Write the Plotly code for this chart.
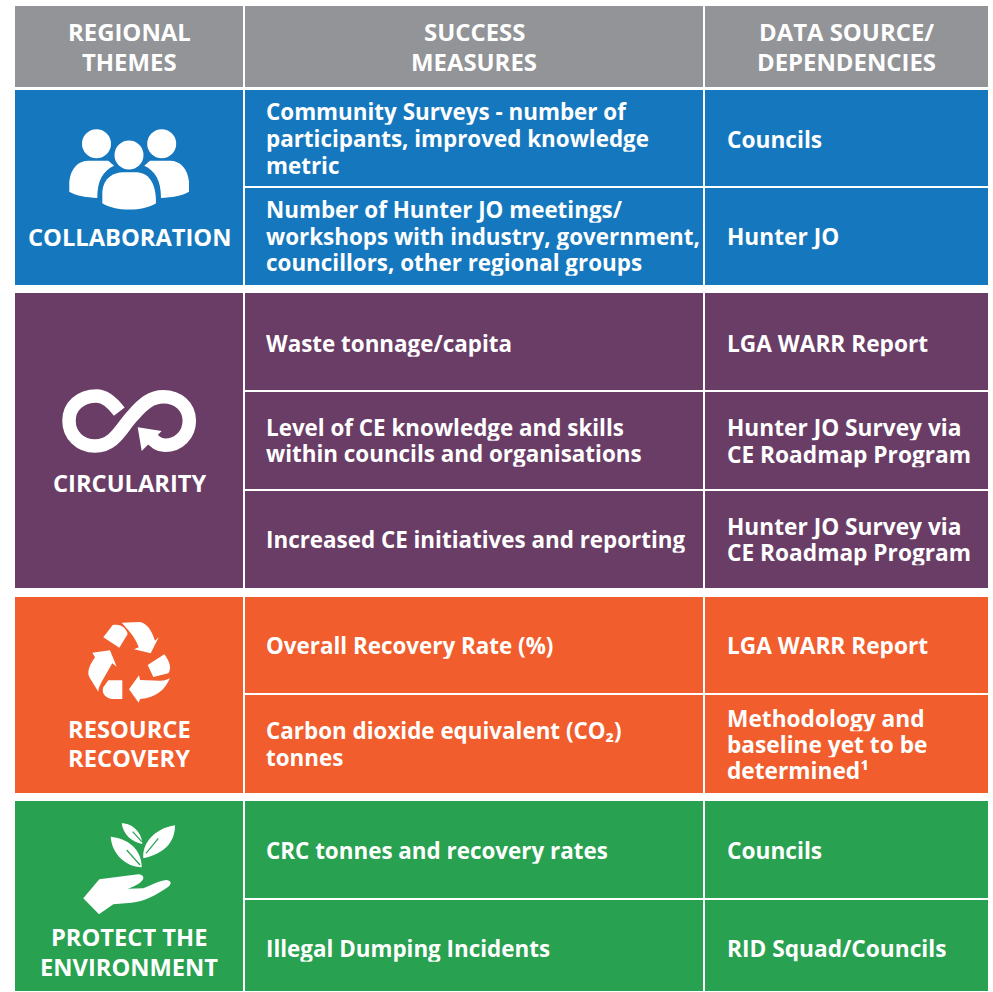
import plotly.graph_objects as go

FONT = "Open Sans"
headers = ["REGIONAL<br>THEMES", "SUCCESS<br>MEASURES", "DATA SOURCE/<br>DEPENDENCIES"]
themes = ["COLLABORATION", "CIRCULARITY", "RESOURCE<br>RECOVERY", "PROTECT THE<br>ENVIRONMENT"]
measures = [
    ["Community Surveys - number of<br>participants, improved knowledge<br>metric",
     "Number of Hunter JO meetings/<br>workshops with industry, government,<br>councillors, other regional groups"],
    ["Waste tonnage/capita",
     "Level of CE knowledge and skills<br>within councils and organisations",
     "Increased CE initiatives and reporting"],
    ["Overall Recovery Rate (%)",
     "Carbon dioxide equivalent (CO\u2082)<br>tonnes"],
    ["CRC tonnes and recovery rates", "Illegal Dumping Incidents"],
]
sources = [
    ["Councils", "Hunter JO"],
    ["LGA WARR Report", "Hunter JO Survey via<br>CE Roadmap Program", "Hunter JO Survey via<br>CE Roadmap Program"],
    ["LGA WARR Report", "Methodology and<br>baseline yet to be<br>determined\u00b9"],
    ["Councils", "RID Squad/Councils"],
]

COLS = [(15, 243), (245, 703), (705, 988)]
HEADER_Y = (6, 87)
BANDS = [[(90, 186), (188, 285)],
         [(293, 390), (392, 489), (491, 588)],
         [(597, 693), (695, 793)],
         [(801, 898), (900, 991)]]
ROW_TEXT_Y = [[139, 236.5], [343.5, 441, 539.5], [645.5, 744.5], [850.5, 948.5]]
COLORS = ["#1578BE", "#6A3D66", "#F15D2C", "#28A150"]
GREY = "#929497"
THEME_TEXT_Y = [237.5, 483, 744, 952.5]

shapes, ann = [], []

def rect(x, y, color):
    shapes.append(dict(type="rect", x0=x[0], x1=x[1], y0=y[0], y1=y[1],
                       fillcolor=color, line=dict(width=0), layer="below"))

def text(x, y, s, size, pitch, anchor="left"):
    lines = s.split("<br>")
    for i, line in enumerate(lines):
        ann.append(dict(x=x, y=y + (i - (len(lines) - 1) / 2) * pitch, text=line, showarrow=False,
                        xanchor=anchor, yanchor="middle", align=anchor, height=pitch - 1,
                        font=dict(family=FONT, size=size, color="white", weight=700)))

def zpath(cmds, ox, oy):
    """Icon outline given in 3x-crop units."""
    out = []
    for c in cmds:
        letter, nums = c[0], c[1:]
        pts = [f"{ox + nums[i] / 3:.1f},{oy + nums[i + 1] / 3:.1f}" for i in range(0, len(nums), 2)]
        out.append(letter + " ".join(pts))
    return " ".join(out)

def fill(cmds, ox, oy, color="white"):
    shapes.append(dict(type="path", path=zpath(cmds, ox, oy) + " Z", fillcolor=color, line=dict(width=0)))

def stroke(cmds, ox, oy, width, color="white"):
    shapes.append(dict(type="path", path=zpath(cmds, ox, oy), line=dict(color=color, width=width),
                       fillcolor="rgba(0,0,0,0)"))

def circle(cx, cy, r):
    shapes.append(dict(type="circle", x0=cx - r, x1=cx + r, y0=cy - r, y1=cy + r,
                       fillcolor="white", line=dict(width=0)))

# header row
HEADER_X = [129.5, 474, 846]
for (c, h, hx) in zip(COLS, headers, HEADER_X):
    rect(c, HEADER_Y, GREY)
    text(hx, 46, h, 23.9, 30, "center")

# body
for b, color in enumerate(COLORS):
    top, bottom = BANDS[b][0][0], BANDS[b][-1][1]
    rect(COLS[0], (top, bottom), color)
    text(129, THEME_TEXT_Y[b], themes[b], 23.7, 29.5, "center")
    for r, rowy in enumerate(BANDS[b]):
        rect(COLS[1], rowy, color)
        rect(COLS[2], rowy, color)
        text(264, ROW_TEXT_Y[b][r], measures[b][r], 22.4, 26.7)
        text(724.5, ROW_TEXT_Y[b][r], sources[b][r], 22.7, 26.2)

# people icon
circle(96.5, 143.7, 14.5); circle(161.7, 143.7, 14.5); circle(129, 155, 14.5)
left = [("M", 208, 575), ("L", 208, 545), ("C", 212, 505, 235, 482, 265, 482), ("L", 325, 482),
        ("L", 342, 497), ("C", 310, 512, 292, 540, 292, 594), ("C", 260, 592, 230, 588, 208, 575)]
fill(left, 0, 0)
right = [(c[0], *[775 - v if i % 2 == 0 else v for i, v in enumerate(c[1:])]) for c in left]
fill(right, 0, 0)
fill([("M", 307, 610), ("L", 307, 575), ("C", 310, 535, 340, 517, 370, 517), ("L", 405, 517),
      ("C", 445, 517, 468, 545, 468, 610), ("C", 430, 635, 345, 635, 307, 610)], 0, 0)

# infinity icon
stroke([("M", 358, 125), ("C", 335, 95, 315, 78, 290, 78), ("C", 240, 78, 207, 110, 207, 152),
        ("C", 207, 195, 240, 228, 285, 228), ("C", 345, 228, 365, 170, 400, 135),
        ("C", 430, 100, 455, 80, 490, 80), ("C", 535, 80, 568, 110, 568, 152),
        ("C", 568, 195, 535, 226, 495, 226), ("C", 475, 226, 460, 212, 450, 198)], 0, 370, 13.5)
fill([("M", 413, 172), ("L", 485, 183), ("L", 425, 243)], 0, 370)

# recycle icon
for p in [
    [("M", 130, 82), ("L", 158, 45), ("C", 185, 40, 198, 55, 203, 72), ("L", 178, 113)],
    [("M", 185, 38), ("L", 240, 36), ("C", 260, 40, 275, 60, 285, 92), ("L", 296, 82), ("L", 272, 130),
     ("L", 222, 118), ("L", 236, 112), ("C", 225, 80, 205, 60, 185, 38)],
    [("M", 263, 165), ("L", 313, 133), ("C", 330, 155, 335, 175, 325, 190), ("L", 280, 201)],
    [("M", 330, 203), ("C", 315, 240, 290, 262, 240, 267), ("L", 236, 278), ("L", 207, 238), ("L", 237, 196),
     ("L", 240, 210), ("L", 300, 212), ("C", 315, 212, 325, 208, 330, 203)],
    [("M", 187, 211), ("L", 187, 267), ("L", 155, 267), ("C", 130, 262, 125, 245, 130, 232), ("L", 145, 211)],
    [("M", 115, 245), ("L", 90, 205), ("C", 80, 190, 85, 170, 105, 142), ("L", 97, 128), ("L", 150, 121),
     ("L", 170, 170), ("L", 157, 160), ("L", 125, 215), ("C", 120, 225, 115, 235, 115, 245)],
]:
    fill(p, 60, 610)

# hand and leaves icon
for p in [
    [("M", 185, 40), ("C", 215, 40, 245, 65, 247, 102), ("C", 215, 95, 190, 75, 185, 40)],
    [("M", 345, 46), ("C", 345, 90, 320, 130, 250, 145), ("C", 245, 100, 285, 55, 345, 46)],
    [("M", 152, 80), ("C", 200, 85, 245, 115, 245, 172), ("C", 195, 170, 155, 130, 152, 80)],
    [("M", 70, 265), ("L", 118, 208), ("L", 235, 193), ("C", 250, 193, 255, 205, 245, 213),
     ("C", 235, 225, 215, 232, 203, 236), ("L", 250, 235), ("C", 280, 222, 305, 210, 320, 210),
     ("C", 335, 212, 335, 222, 325, 230), ("C", 290, 255, 250, 275, 215, 278), ("L", 160, 283), ("L", 117, 313)],
]:
    fill(p, 60, 810)
for v in [[("M", 218, 65), ("L", 245, 95)], [("M", 295, 85), ("L", 258, 130)], [("M", 200, 120), ("L", 240, 165)]]:
    stroke(v, 60, 810, 1.2, COLORS[3])

fig = go.Figure()
fig.update_layout(width=993, height=992, autosize=False, margin=dict(l=0, r=0, t=0, b=0),
                  paper_bgcolor="white", plot_bgcolor="white", shapes=shapes, annotations=ann,
                  showlegend=False,
                  xaxis=dict(range=[0, 993], visible=False, fixedrange=True),
                  yaxis=dict(range=[992, 0], visible=False, fixedrange=True))
fig.write_html("out.html", post_script="document.body.style.margin='0';", config=dict(displayModeBar=False))
